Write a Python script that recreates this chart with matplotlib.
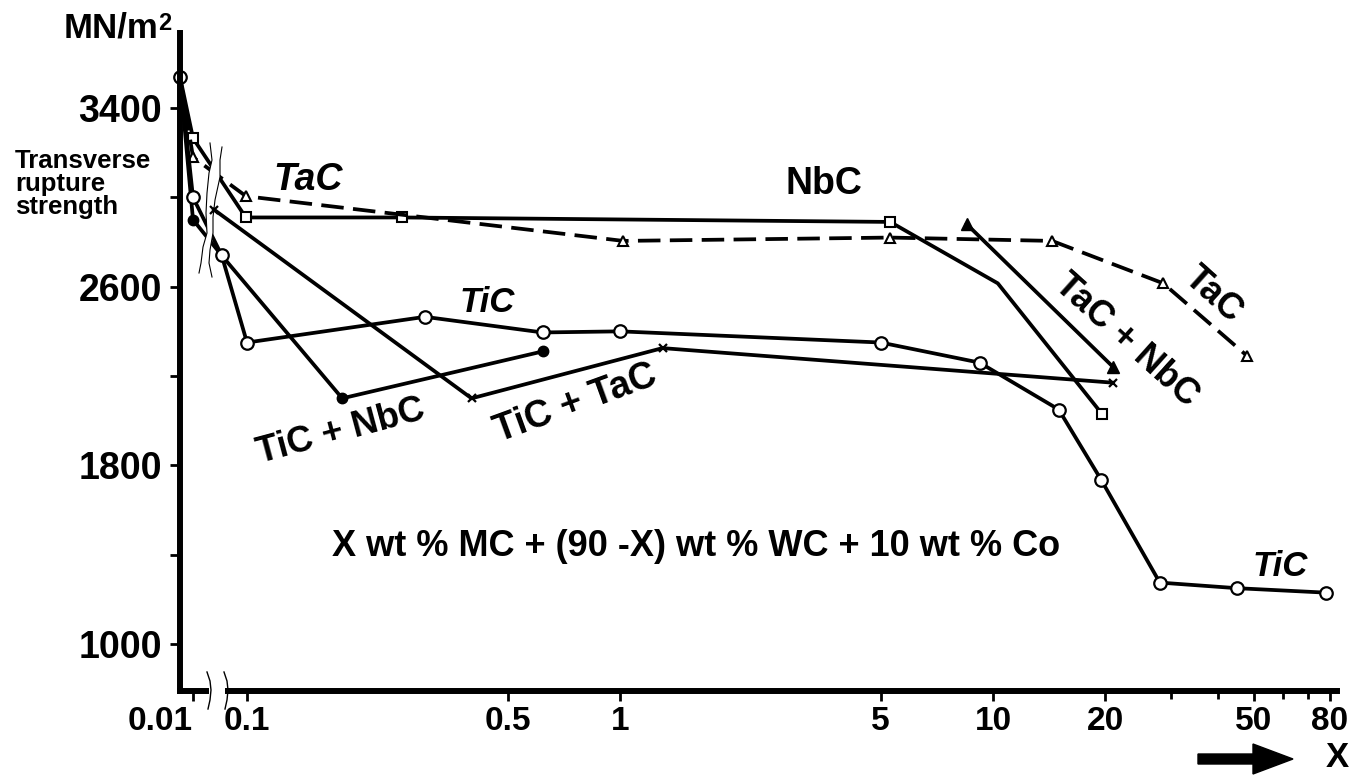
import numpy as np
import matplotlib
matplotlib.use("Agg")
import matplotlib.pyplot as plt
from matplotlib.patches import Polygon, FancyArrow, Rectangle
from matplotlib.lines import Line2D
from matplotlib.ticker import FixedLocator, FixedFormatter, NullFormatter

plt.rcParams["font.family"] = ["Liberation Sans", "DejaVu Sans"]
plt.rcParams["font.weight"] = "bold"

# data (x = wt % MC, y = transverse rupture strength MN/m2)
tic_x = [0, 0.01, 0.034, 0.1, 0.3, 0.62, 1, 5, 9.2, 15, 19.5, 28, 45, 78]
tic_y = [3540, 3000, 2740, 2350, 2465, 2395, 2400, 2350, 2260, 2050, 1735, 1275, 1250, 1230]

nbc_x = [0, 0.01, 0.095, 0.26, 5.3, 10.3, 19.6]
nbc_y = [3540, 3265, 2910, 2910, 2890, 2615, 2030]

tac_x = [0, 0.01, 0.096, 1.02, 5.3, 14.4, 28.6, 48]
tac_y = [3540, 3180, 3005, 2805, 2820, 2805, 2615, 2290]

tac_nbc_x = [8.5, 21]
tac_nbc_y = [2880, 2240]

tic_nbc_x = [0, 0.01, 0.034, 0.18, 0.62]
tic_nbc_y = [3540, 2900, 2740, 2100, 2310]

tic_tac_x = [0.0245, 0.4, 1.3, 21]
tic_tac_y = [2945, 2100, 2325, 2170]

xticks = [0.01, 0.1, 0.5, 1, 5, 10, 20, 50, 80]
xticklabels = ["0.01", "0.1", "0.5", "1", "5", "10", "20", "50", "80"]
xminor = [30, 40, 60, 70]
yticks = [1000, 1800, 2600, 3400]
yminor = [1400, 2200, 3000]

W, H = 1353, 775


def fxy(x, y):
    # image pixel -> figure fraction
    return x / W, 1 - y / H


# broken log axis: 0..0.01 linear, 0.01..0.1 squeezed, >=0.1 plain log
K = 54 / 373
S = 13 / 373


def fwd(x):
    x = np.asarray(x, dtype=float)
    lg = np.log10(np.clip(x, 1e-4, None))
    return np.where(x >= 0.1, lg,
                    np.where(x >= 0.01, -1 + (lg + 1) * K,
                             -1 - K - (1 - x / 0.01) * S))


def inv(u):
    u = np.asarray(u, dtype=float)
    big = 10 ** np.clip(u, -10, 10)
    mid = 10 ** np.clip(-1 + (u + 1) / K, -10, 10)
    low = 0.01 * (1 - (-1 - K - u) / S)
    return np.where(u >= -1, big, np.where(u >= -1 - K, mid, low))


fig = plt.figure(figsize=(W / 100, H / 100), dpi=100)
ax = fig.add_axes([180 / W, 84 / H, 1157 / W, 658 / H])
ax.set_xscale("function", functions=(fwd, inv))

lw = 2.7
ax.plot(tic_nbc_x, tic_nbc_y, color="k", lw=lw, marker="o", ms=7.5, mfc="k",
        mec="k", markevery=[1, 3, 4], zorder=2.1)
ax.plot(nbc_x, nbc_y, color="k", lw=lw, marker="s", ms=7, mfc="white",
        mec="k", mew=1.5, markevery=[1, 2, 3, 4, 6], zorder=2.2)
ax.plot(tac_x, tac_y, color="k", lw=lw, ls=(0, (6, 2.5)), marker="^", ms=7.5,
        mfc="white", mec="k", mew=1.5, markevery=list(range(1, len(tac_x))), zorder=2.3)
ax.plot(tac_nbc_x, tac_nbc_y, color="k", lw=lw, marker="^", ms=8.5, mfc="k",
        mec="k", zorder=2.2)
ax.plot(tic_x, tic_y, color="k", lw=lw, marker="o", ms=9, mfc="white",
        mec="k", mew=1.6, zorder=2.4, clip_on=False)
ax.plot(tic_tac_x, tic_tac_y, color="k", lw=lw, marker="x", ms=6, mew=1.6,
        zorder=3.2)

ax.set_xlim(0, 83.6)
ax.set_ylim(789.5, 3736)

# ticks
ax.xaxis.set_major_locator(FixedLocator(xticks))
ax.xaxis.set_major_formatter(FixedFormatter(xticklabels))
ax.xaxis.set_minor_locator(FixedLocator(xminor))
ax.xaxis.set_minor_formatter(NullFormatter())
ax.set_yticks(yticks)
ax.set_yticks(yminor, minor=True)
ax.tick_params(axis="both", which="both", direction="out", length=7, width=2)
ax.tick_params(axis="x", which="major", labelsize=24, pad=4)
ax.tick_params(axis="y", which="major", labelsize=27, pad=6)
ax.tick_params(axis="x", which="minor", length=6)
ax.xaxis.get_major_ticks(len(xticks))[0].label1.set_horizontalalignment("right")

for s in ["top", "right"]:
    ax.spines[s].set_visible(False)
for s in ["left", "bottom"]:
    ax.spines[s].set_linewidth(4.3)

# axis break band (wavy lines)
left_wave = [(210, 143), (212, 160), (209, 173), (207, 193), (206, 213),
             (207, 233), (203, 247), (201, 263), (199, 273)]
right_wave = [(222, 147), (220, 160), (220, 177), (215, 200), (213, 217),
              (213, 233), (210, 250), (209, 263), (212, 277)]
band = [fxy(*p) for p in left_wave + right_wave[::-1]]
ax.add_artist(Polygon(band, closed=True, fc="white", ec="none",
                      transform=fig.transFigure, zorder=3))
for wave in (left_wave, right_wave):
    xs, ys = zip(*[fxy(*p) for p in wave])
    ax.add_artist(Line2D(xs, ys, color="k", lw=0.8, transform=fig.transFigure, zorder=3.1))

# break on x axis
ax.add_artist(Rectangle(fxy(209, 697), 16 / W, 12 / H, fc="white", ec="none",
                        transform=fig.transFigure, zorder=3, clip_on=False))
for x0 in (207, 224):
    pts = [(x0, 672), (x0 + 3, 681), (x0 + 4, 690), (x0 + 3, 700), (x0 + 1, 709)]
    xs, ys = zip(*[fxy(*p) for p in pts])
    ax.add_artist(Line2D(xs, ys, color="k", lw=1.0, transform=fig.transFigure,
                         zorder=3.1, clip_on=False))

# axis texts
fig.text(*fxy(158, 12), "MN/m", ha="right", va="top", fontsize=25)
fig.text(*fxy(158, 12), "2", ha="left", va="top", fontsize=17)
fig.text(*fxy(15, 149), "Transverse\nrupture\nstrength", ha="left", va="top",
         fontsize=18.5, linespacing=0.95)

labels = [
    ("TaC", 308, 180, 0, "italic", 27),
    ("NbC", 824, 184, 0, "normal", 27),
    ("TiC", 487, 302, 0, "italic", 25),
    ("TiC + NbC", 341, 432, 15, "normal", 26),
    ("TiC + TaC", 576, 403, 20, "normal", 27),
    ("TaC + NbC", 1126, 340, -42, "normal", 26),
    ("TaC", 1213, 295, -42, "normal", 26),
    ("TiC", 1280, 566, 0, "italic", 25),
    ("X wt % MC + (90 -X) wt % WC + 10 wt % Co", 696, 547, 0, "normal", 26),
]
for txt, x, y, rot, style, size in labels:
    fig.text(*fxy(x, y), txt, ha="center", va="center", rotation=rot,
             rotation_mode="anchor", fontstyle=style, fontsize=size)

# arrow + X under the axis
fig.text(*fxy(1337, 767), "X", ha="center", va="baseline", fontsize=25)
fig.add_artist(FancyArrow(1198 / W, 16 / H, 95 / W, 0, width=10 / H,
                          head_width=30 / H, head_length=40 / W,
                          length_includes_head=True, color="k",
                          transform=fig.transFigure))

fig.savefig("out.png", dpi=100)
